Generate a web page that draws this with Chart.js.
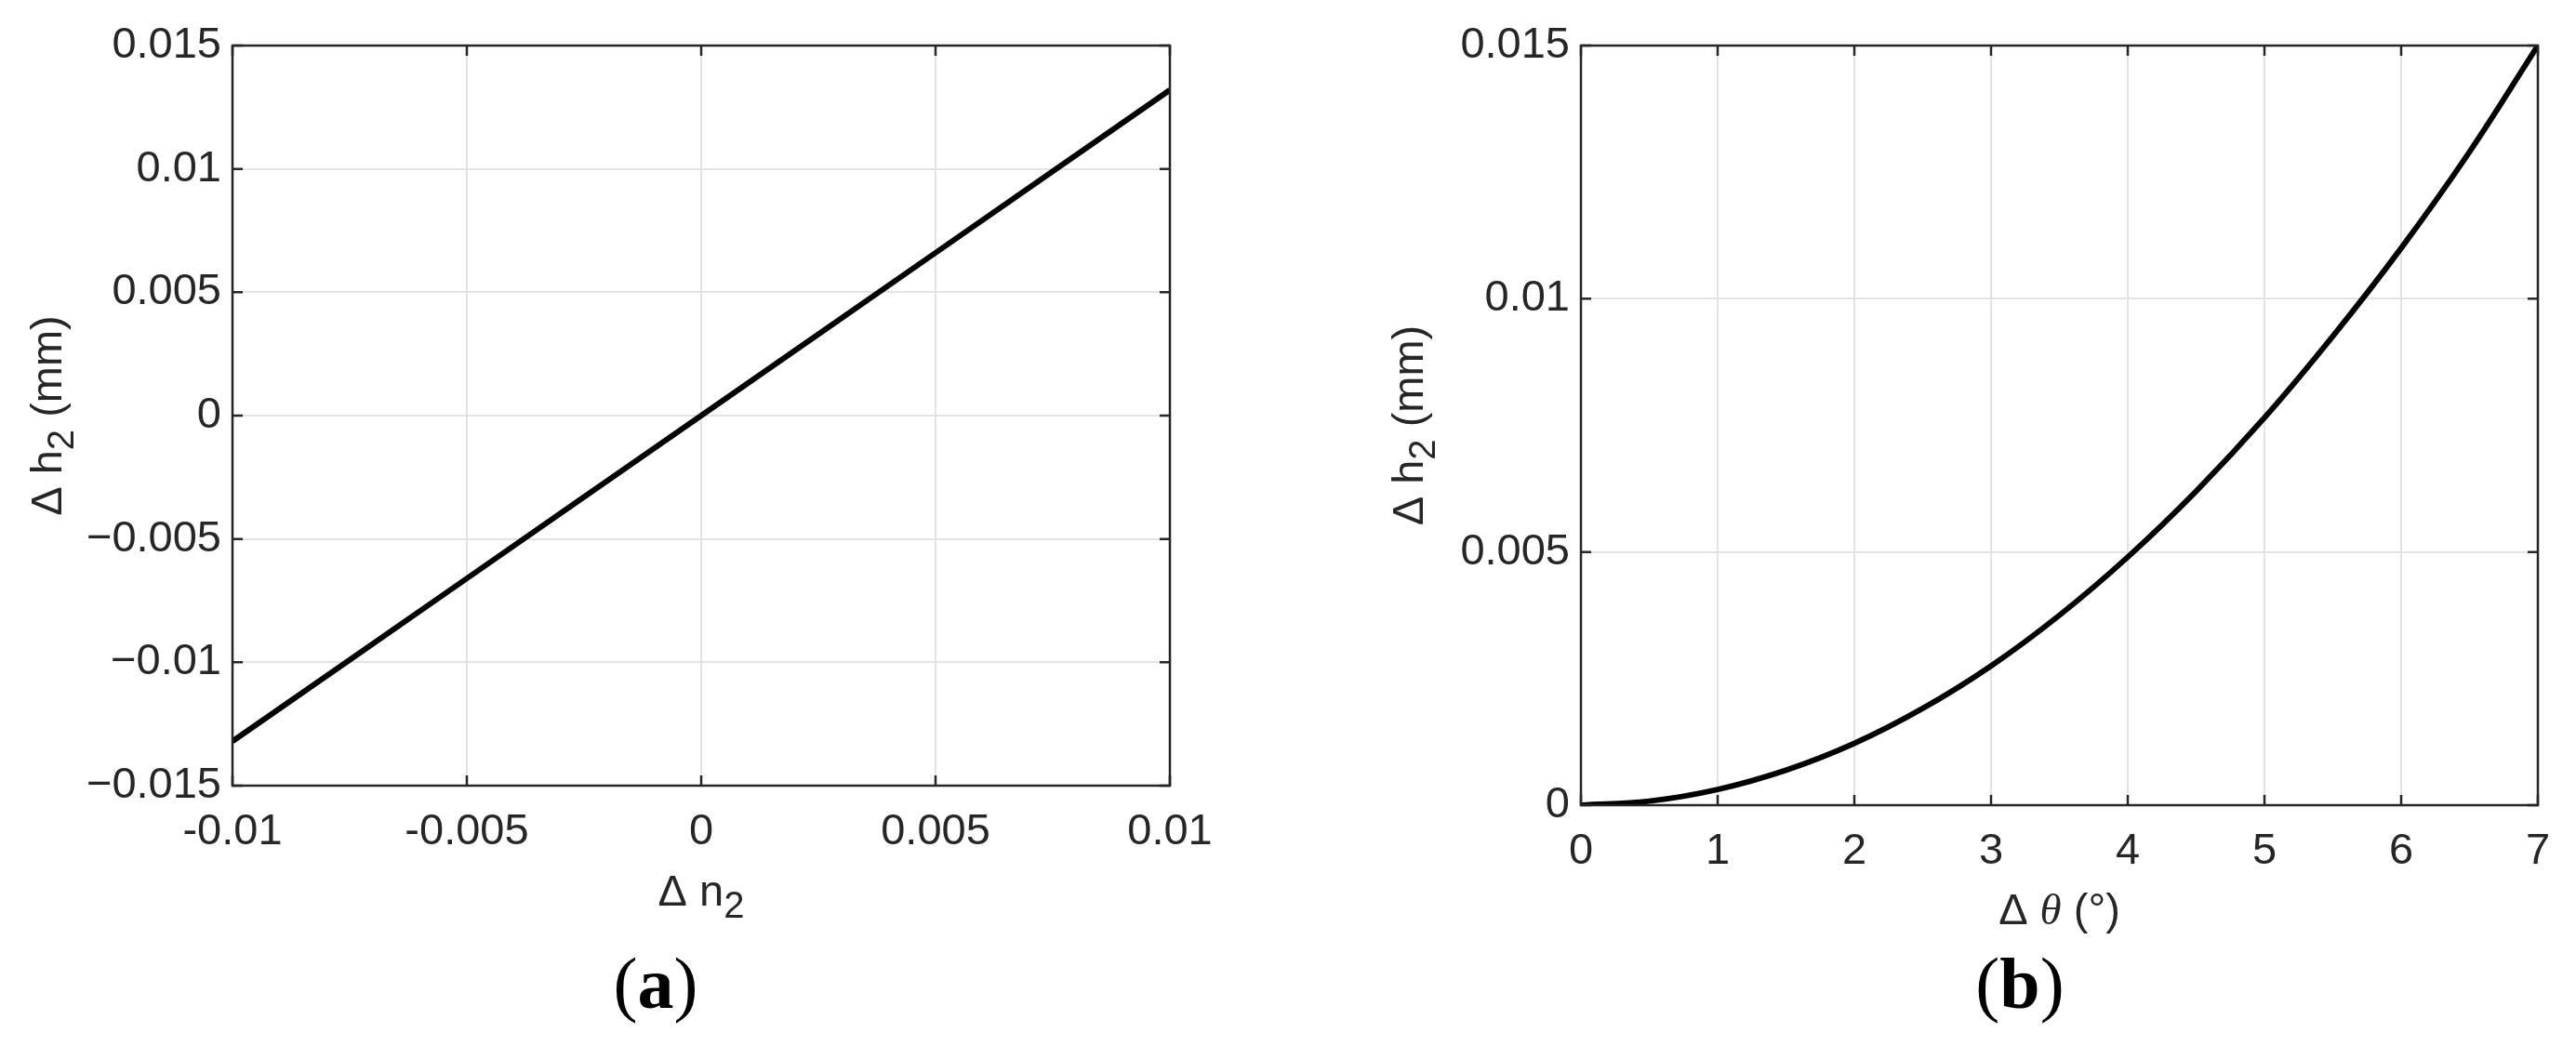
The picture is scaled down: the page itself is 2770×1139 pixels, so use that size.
<!DOCTYPE html>
<html>
<head>
<meta charset="utf-8">
<script src="https://cdn.jsdelivr.net/npm/chart.js@4.4.1/dist/chart.umd.min.js"></script>
<style>
  body { margin: 0; background: #fff; width: 2770px; height: 1139px; position: relative; overflow: hidden; }
  canvas { position: absolute; top: 0; }
  #chartA { left: 0; }
  #chartB { left: 1330px; }
  .tag { position: absolute; font-family: "Liberation Serif", "Times New Roman", serif; font-size: 78px; color: #000; line-height: 1; transform: translate(-50%, -50%); }
  .tag b { font-weight: bold; }
</style>
</head>
<body>
<canvas id="chartA" width="1330" height="1139"></canvas>
<canvas id="chartB" width="1440" height="1139"></canvas>
<div class="tag" style="left:705px; top:1058px;">(<b>a</b>)</div>
<div class="tag" style="left:2172px; top:1058px;">(<b>b</b>)</div>
<script>
// (a) dh2 vs dn2
var dn2 = [-0.01, -0.005, 0, 0.005, 0.01];
var dh2A = [-0.0132, -0.0066, 0, 0.0066, 0.0132];
var xTicksA = [-0.01, -0.005, 0, 0.005, 0.01];
var xLabelsA = ['-0.01', '-0.005', '0', '0.005', '0.01'];
var yTicksA = [-0.015, -0.01, -0.005, 0, 0.005, 0.01, 0.015];
var yLabelsA = ['\u22120.015', '\u22120.01', '\u22120.005', '0', '0.005', '0.01', '0.015'];

// (b) dh2 vs dtheta
var dTheta = [0, 0.5, 1, 1.5, 2, 2.5, 3, 3.5, 4, 4.5, 5, 5.5, 6, 6.5, 7];
var dh2B = [0, 0.00008, 0.00031, 0.00069, 0.00122, 0.00191, 0.00275, 0.00375, 0.0049, 0.0062, 0.00765, 0.00926, 0.0110, 0.0129, 0.015];
var xTicksB = [0, 1, 2, 3, 4, 5, 6, 7];
var xLabelsB = ['0', '1', '2', '3', '4', '5', '6', '7'];
var yTicksB = [0, 0.005, 0.01, 0.015];
var yLabelsB = ['0', '0.005', '0.01', '0.015'];

var axisColor = '#262626';
var gridColor = '#e3e3e3';
var tickFont = { family: 'Liberation Sans, Arial, sans-serif', size: 47 };

function toPoints(xs, ys) {
	var pts = [];
	for (var i in xs) {
		pts.push({ x: xs[i], y: ys[i] });
	}
	return pts;
}

// box + inward tick marks on all four sides, like matlab
var boxPlugin = {
	id: 'box',
	afterDraw: function(chart) {
		var ctx = chart.ctx, a = chart.chartArea;
		var xs = chart.scales.x, ys = chart.scales.y;
		var len = 11;
		ctx.save();
		ctx.strokeStyle = axisColor;
		ctx.lineWidth = 2.5;
		ctx.beginPath();
		xs.ticks.forEach(function(t) {
			var px = xs.getPixelForValue(t.value);
			ctx.moveTo(px, a.bottom); ctx.lineTo(px, a.bottom - len);
			ctx.moveTo(px, a.top); ctx.lineTo(px, a.top + len);
		});
		ys.ticks.forEach(function(t) {
			var py = ys.getPixelForValue(t.value);
			ctx.moveTo(a.left, py); ctx.lineTo(a.left + len, py);
			ctx.moveTo(a.right, py); ctx.lineTo(a.right - len, py);
		});
		ctx.stroke();
		ctx.strokeRect(a.left, a.top, a.right - a.left, a.bottom - a.top);
		ctx.restore();
	}
};

// axis titles made of pieces so subscripts and italic theta work
function drawPieces(ctx, pieces, cx, cy, rotate) {
	var total = 0;
	pieces.forEach(function(p) {
		ctx.font = p.font;
		p.w = ctx.measureText(p.t).width;
		total += p.w;
	});
	ctx.save();
	ctx.translate(cx, cy);
	if (rotate) ctx.rotate(-Math.PI / 2);
	ctx.fillStyle = axisColor;
	ctx.textBaseline = 'alphabetic';
	var x = -total / 2;
	pieces.forEach(function(p) {
		ctx.font = p.font;
		ctx.fillText(p.t, x, 16 + (p.dy || 0));
		x += p.w;
	});
	ctx.restore();
}

var sans = '47px Liberation Sans, Arial, sans-serif';
var sub = '40px Liberation Sans, Arial, sans-serif';
var hTitle = [
	{ t: '\u0394 ', font: sans },
	{ t: 'h', font: sans },
	{ t: '2', font: sub, dy: 13 },
	{ t: ' (mm)', font: sans }
];

var titlePlugin = {
	id: 'titles',
	afterDraw: function(chart) {
		var o = chart.options.plugins.titles;
		var a = chart.chartArea;
		drawPieces(chart.ctx, hTitle, a.left - o.yOffset, (a.top + a.bottom) / 2, true);
		drawPieces(chart.ctx, o.xPieces, (a.left + a.right) / 2, a.bottom + o.xOffset, false);
	}
};

function makeChart(id, xs, ys, xTicks, xLabels, yTicks, yLabels, opts) {
	var ctx = document.getElementById(id);
	return new Chart(ctx, {
		type: 'line',
		data: {
			datasets: [{
				data: toPoints(xs, ys),
				borderColor: '#000',
				borderWidth: 6,
				pointRadius: 0,
				tension: 0.4,
				fill: false
			}]
		},
		options: {
			responsive: false,
			animation: false,
			layout: { padding: { top: 49, right: opts.padRight, left: 0, bottom: 0 } },
			plugins: {
				legend: { display: false },
				tooltip: { enabled: false },
				titles: { yOffset: opts.yOffset, xOffset: opts.xOffset, xPieces: opts.xPieces }
			},
			scales: {
				x: {
					type: 'linear',
					min: xTicks[0],
					max: xTicks[xTicks.length - 1],
					afterBuildTicks: function(s) { s.ticks = xTicks.map(function(v) { return { value: v }; }); },
					afterFit: function(s) { s.height = opts.xHeight; s.paddingLeft = 0; s.paddingRight = 0; },
					grid: { color: gridColor, lineWidth: 2, drawTicks: false },
					border: { display: false },
					ticks: {
						color: axisColor, font: tickFont, padding: 22, maxRotation: 0, autoSkip: false,
						callback: function(v, i) { return xLabels[i]; }
					}
				},
				y: {
					type: 'linear',
					min: yTicks[0],
					max: yTicks[yTicks.length - 1],
					afterBuildTicks: function(s) { s.ticks = yTicks.map(function(v) { return { value: v }; }); },
					afterFit: function(s) { s.width = opts.yWidth; s.paddingTop = 0; s.paddingBottom = 0; },
					grid: { color: gridColor, lineWidth: 2, drawTicks: false },
					border: { display: false },
					ticks: {
						color: axisColor, font: tickFont, padding: 12, autoSkip: false,
						callback: function(v, i) { return yLabels[i]; }
					}
				}
			}
		},
		plugins: [boxPlugin, titlePlugin]
	});
}

var chartA = makeChart('chartA', dn2, dh2A, xTicksA, xLabelsA, yTicksA, yLabelsA, {
	padRight: 72, yWidth: 250, xHeight: 294, yOffset: 200, xOffset: 113,
	xPieces: [
		{ t: '\u0394 ', font: sans },
		{ t: 'n', font: sans },
		{ t: '2', font: sub, dy: 13 }
	]
});

var chartB = makeChart('chartB', dTheta, dh2B, xTicksB, xLabelsB, yTicksB, yLabelsB, {
	padRight: 41, yWidth: 370, xHeight: 273, yOffset: 186, xOffset: 112,
	xPieces: [
		{ t: '\u0394 ', font: sans },
		{ t: '\u03b8', font: 'italic 47px Liberation Serif, Times New Roman, serif' },
		{ t: ' (\u00b0)', font: sans }
	]
});
</script>
</body>
</html>
